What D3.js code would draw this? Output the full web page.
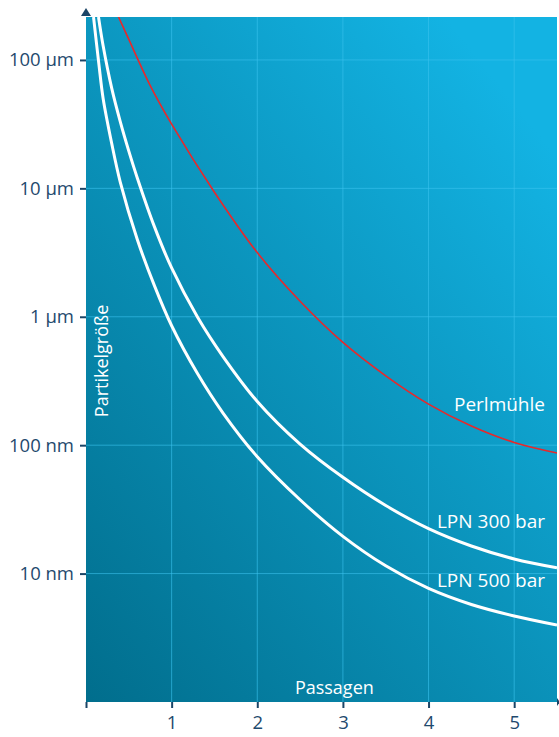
<!DOCTYPE html>
<html>
<head>
<meta charset="utf-8">
<script src="https://cdn.jsdelivr.net/npm/d3@7"></script>
<style>
  body { margin: 0; background: #fff; }
  text { font-family: "Open Sans", sans-serif; }
</style>
</head>
<body>
<svg id="chart" width="559" height="737"></svg>
<script>
// Passagen (x) and particle size in nm (y)
const perlX = [0.38, 0.5, 0.75, 1, 1.5, 2, 2.5, 3, 3.5, 4, 4.5, 5, 5.5];
const perlSize = [216000, 144500, 63100, 31600, 9330, 3160, 1320, 631, 347, 209, 141, 105, 87];

const lpn300X = [0.146, 0.2, 0.3, 0.4, 0.5, 0.6, 0.8, 1.0, 1.3, 1.6, 2.0, 2.5, 3.0, 3.5, 4.0, 4.5, 5.0, 5.5];
const lpn300Size = [216000, 128800, 60300, 33100, 19500, 12000, 5010, 2400, 1000, 490, 219, 102, 56.2, 33.9, 22.4, 16.4, 13.0, 11.1];

const lpn500X = [0.088, 0.15, 0.2, 0.3, 0.4, 0.6, 0.8, 1.0, 1.3, 1.6, 2.0, 2.5, 3.0, 3.5, 4.0, 4.5, 5.0, 5.5];
const lpn500Size = [216000, 93300, 50100, 22400, 11200, 3980, 1740, 851, 363, 178, 81.3, 37.6, 19.5, 11.5, 7.67, 5.75, 4.68, 3.98];

const seriesNames = ["Perlmühle", "LPN 300 bar", "LPN 500 bar"];
const xTickValues = [0, 1, 2, 3, 4, 5];
const xTickLabels = ["", "1", "2", "3", "4", "5"];
const yTickValues = [10, 100, 1000, 10000, 100000];
const yTickLabels = ["10 nm", "100 nm", "1 µm", "10 µm", "100 µm"];
const xDomain = [0, 5.5];
const yDomain = [1, 216000];

const width = 559;
const height = 737;
const margin = { top: 17, right: 2, bottom: 35, left: 86 };
const innerW = width - margin.left - margin.right;
const innerH = height - margin.top - margin.bottom;

const svg = d3.select("#chart");
const defs = svg.append("defs");

// background gradient, dark teal bottom-left to light cyan top-right
const grad = defs.append("linearGradient")
    .attr("id", "bg")
    .attr("gradientUnits", "userSpaceOnUse")
    .attr("x1", 57).attr("y1", 725)
    .attr("x2", 640).attr("y2", 261);
grad.append("stop").attr("offset", "0%").attr("stop-color", "#006a88");
grad.append("stop").attr("offset", "100%").attr("stop-color", "#13b3e3");

defs.append("clipPath").attr("id", "plotClip")
  .append("rect").attr("width", innerW).attr("height", innerH);

const g = svg.append("g").attr("transform", "translate(" + margin.left + "," + margin.top + ")");

const x = d3.scaleLinear().domain(xDomain).range([0, innerW]);
const y = d3.scaleLog().domain(yDomain).range([innerH, 0]);

svg.insert("rect", "g")
    .attr("x", margin.left)
    .attr("y", margin.top)
    .attr("width", innerW)
    .attr("height", innerH)
    .attr("fill", "url(#bg)");

// grid
g.append("g").selectAll("line")
    .data(xTickValues.slice(1))
    .enter().append("line")
    .attr("x1", d => x(d)).attr("x2", d => x(d))
    .attr("y1", 0).attr("y2", innerH)
    .attr("stroke", "#3cc3ee").attr("stroke-opacity", 0.6).attr("stroke-width", 1);

g.append("g").selectAll("line")
    .data(yTickValues)
    .enter().append("line")
    .attr("x1", 0).attr("x2", innerW)
    .attr("y1", d => y(d)).attr("y2", d => y(d))
    .attr("stroke", "#3cc3ee").attr("stroke-opacity", 0.6).attr("stroke-width", 1);

// axes
const yAxis = g.append("g")
    .call(d3.axisLeft(y).tickValues(yTickValues).tickFormat((d, i) => yTickLabels[i]).tickSize(6).tickPadding(6));
yAxis.select(".domain").remove();

const xAxis = g.append("g")
    .attr("transform", "translate(0," + innerH + ")")
    .call(d3.axisBottom(x).tickValues(xTickValues).tickFormat((d, i) => xTickLabels[i]).tickSize(6).tickPadding(8));
xAxis.select(".domain").remove();

[yAxis, xAxis].forEach(ax => {
  ax.selectAll(".tick line").attr("stroke", "#1b4567").attr("stroke-width", 2);
  ax.selectAll(".tick text")
    .attr("fill", "#1f4a6e")
    .style("font-size", "18.5px")
    .style("font-family", "'Open Sans', sans-serif");
});

// axis arrows
g.append("path")
    .attr("d", "M-5,-1 L0,-9 L5,-1 Z")
    .attr("fill", "#1b4567");
g.append("path")
    .attr("d", "M" + innerW + ",-4 L" + (innerW + 3) + ",0 L" + innerW + ",4 Z")
    .attr("transform", "translate(0," + innerH + ")")
    .attr("fill", "#1b4567");

// curves
const line = d3.line()
    .x(d => x(d[0]))
    .y(d => y(d[1]))
    .curve(d3.curveCatmullRom.alpha(0.5));

const series = [
  { name: seriesNames[0], xs: perlX, ys: perlSize, color: "#e8282b", w: 1.6 },
  { name: seriesNames[1], xs: lpn300X, ys: lpn300Size, color: "#ffffff", w: 3 },
  { name: seriesNames[2], xs: lpn500X, ys: lpn500Size, color: "#ffffff", w: 3 }
];

const curves = g.append("g").attr("clip-path", "url(#plotClip)");
series.forEach(s => {
  curves.append("path")
      .datum(s.xs.map((v, i) => [v, s.ys[i]]))
      .attr("fill", "none")
      .attr("stroke", s.color)
      .attr("stroke-width", s.w)
      .attr("d", line);
});

// series labels
const labelAt = [
  { x: 5.36, y: 185 },
  { x: 5.36, y: 22.6 },
  { x: 5.36, y: 7.9 }
];
g.selectAll(".series-label")
    .data(series)
    .enter().append("text")
    .attr("class", "series-label")
    .attr("x", (d, i) => x(labelAt[i].x))
    .attr("y", (d, i) => y(labelAt[i].y))
    .attr("text-anchor", "end")
    .attr("fill", "#ffffff")
    .style("font-size", "19px")
    .text(d => d.name);

// axis titles inside the plot
g.append("text")
    .attr("x", x(2.9))
    .attr("y", innerH - 8)
    .attr("text-anchor", "middle")
    .attr("fill", "#ffffff")
    .style("font-size", "18px")
    .text("Passagen");

g.append("text")
    .attr("transform", "translate(" + 22 + "," + y(453) + ") rotate(-90)")
    .attr("text-anchor", "middle")
    .attr("fill", "#ffffff")
    .style("font-size", "18px")
    .text("Partikelgröße");
</script>
</body>
</html>
